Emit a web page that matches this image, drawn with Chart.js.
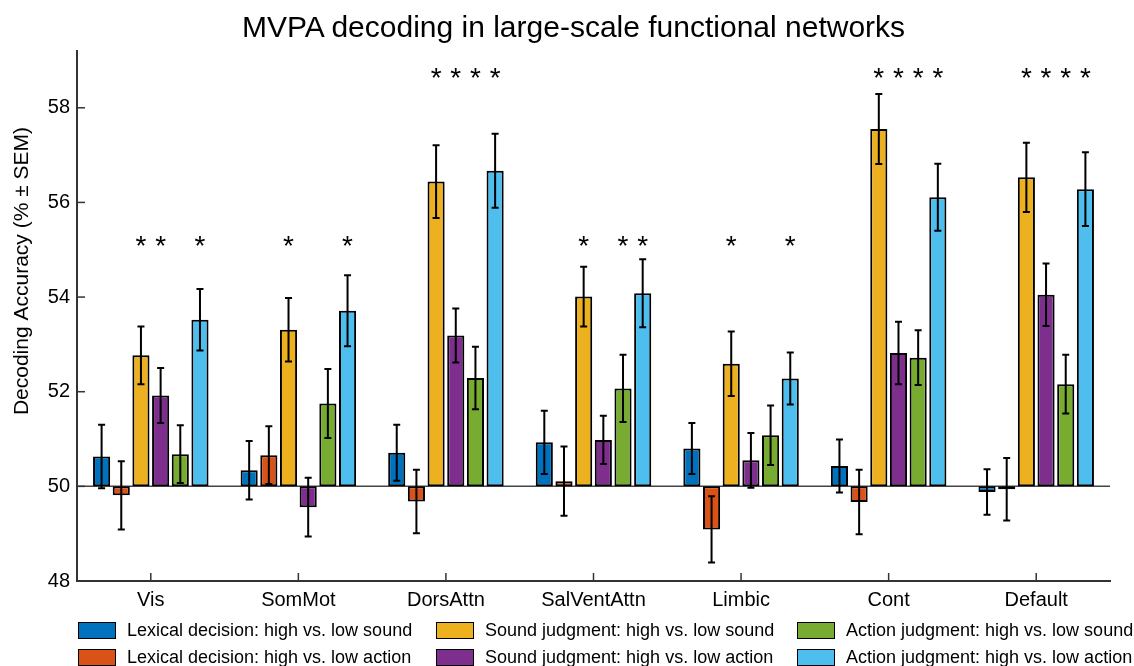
<!DOCTYPE html>
<html>
<head>
<meta charset="utf-8">
<script src="https://cdn.jsdelivr.net/npm/chart.js@4/dist/chart.umd.min.js"></script>
<style>
  html, body { margin: 0; padding: 0; background: #fff; }
  #wrap { position: relative; width: 1134px; height: 666px; overflow: hidden; }
  #title { position: absolute; left: 0; top: 9px; width: 1147px; text-align: center;
           font-family: 'Liberation Sans', Arial, sans-serif; font-size: 30px; line-height: 36px; color: #000; }
  #legend { position: absolute; left: 0; top: 0; width: 1134px; height: 666px; pointer-events: none;
            font-family: 'Liberation Sans', Arial, sans-serif; font-size: 18px; color: #000; }
  .item { position: absolute; white-space: nowrap; height: 18px; line-height: 18px; }
  .box { position: absolute; left: 0; top: 0; width: 36px; height: 15px; border: 1.5px solid #000; }
  .lbl { position: absolute; left: 49px; top: -1px; }
</style>
</head>
<body>
<div id="wrap">
  <canvas id="barChart" width="1134" height="666"></canvas>
  <div id="title">MVPA decoding in large-scale functional networks</div>
  <div id="legend"></div>
</div>
<script>
// networks on the x axis
var categories = ['Vis', 'SomMot', 'DorsAttn', 'SalVentAttn', 'Limbic', 'Cont', 'Default'];
var yTicks = [48, 50, 52, 54, 56, 58];
var yTitle = 'Decoding Accuracy (% ± SEM)';

// mean decoding accuracy (%) and SEM per network
var lexSound = [50.63, 50.34, 50.71, 50.93, 50.80, 50.43, 49.88];
var lexSoundSem = [0.67, 0.62, 0.59, 0.67, 0.54, 0.56, 0.48];
var lexAction = [49.81, 50.66, 49.68, 50.11, 49.09, 49.67, 49.94];
var lexActionSem = [0.72, 0.61, 0.67, 0.73, 0.70, 0.68, 0.66];
var soundSound = [52.77, 53.31, 56.44, 54.01, 52.59, 57.55, 56.53];
var soundSoundSem = [0.61, 0.67, 0.77, 0.63, 0.68, 0.74, 0.73];
var soundAction = [51.92, 49.56, 53.19, 50.98, 50.55, 52.82, 54.05];
var soundActionSem = [0.58, 0.62, 0.57, 0.51, 0.58, 0.66, 0.66];
var actionSound = [50.68, 51.75, 52.29, 52.07, 51.08, 52.72, 52.16];
var actionSoundSem = [0.61, 0.73, 0.66, 0.71, 0.63, 0.58, 0.62];
var actionAction = [53.52, 53.71, 56.67, 54.08, 52.28, 56.11, 56.28];
var actionActionSem = [0.65, 0.75, 0.78, 0.72, 0.55, 0.71, 0.78];

// significance marks (1 = asterisk) and the height they sit at per network
var lexSoundSig = [0, 0, 0, 0, 0, 0, 0];
var lexActionSig = [0, 0, 0, 0, 0, 0, 0];
var soundSoundSig = [1, 1, 1, 1, 1, 1, 1];
var soundActionSig = [1, 0, 1, 0, 0, 1, 1];
var actionSoundSig = [0, 0, 1, 1, 0, 1, 1];
var actionActionSig = [1, 1, 1, 1, 1, 1, 1];
var starLevel = [55.17, 55.17, 58.71, 55.17, 55.17, 58.71, 58.71];

var FONT = "'Liberation Sans', Arial, sans-serif";

var series = [
    { label: 'Lexical decision: high vs. low sound', data: lexSound, sem: lexSoundSem, sig: lexSoundSig, color: '#0072BD' },
    { label: 'Lexical decision: high vs. low action', data: lexAction, sem: lexActionSem, sig: lexActionSig, color: '#D95319' },
    { label: 'Sound judgment: high vs. low sound', data: soundSound, sem: soundSoundSem, sig: soundSoundSig, color: '#EDB120' },
    { label: 'Sound judgment: high vs. low action', data: soundAction, sem: soundActionSem, sig: soundActionSig, color: '#7E2F8E' },
    { label: 'Action judgment: high vs. low sound', data: actionSound, sem: actionSoundSem, sig: actionSoundSig, color: '#77AC30' },
    { label: 'Action judgment: high vs. low action', data: actionAction, sem: actionActionSem, sig: actionActionSig, color: '#4DBEEE' }
];

var datasets = series.map(function(s) {
    return {
        label: s.label,
        data: s.data,
        base: 50,
        backgroundColor: s.color,
        borderColor: '#000',
        borderWidth: 2,
        borderSkipped: false,
        categoryPercentage: 0.8,
        barPercentage: 0.87
    };
});

// baseline at 50, inward ticks, y title, error bars and asterisks
var extras = {
    id: 'extras',
    beforeDatasetsDraw: function(chart) {
        var ctx = chart.ctx, area = chart.chartArea;
        var x = chart.scales.x, y = chart.scales.y;
        ctx.save();
        ctx.strokeStyle = '#444';
        ctx.lineWidth = 1.5;
        var y50 = y.getPixelForValue(50);
        ctx.beginPath();
        ctx.moveTo(area.left, y50);
        ctx.lineTo(area.right, y50);
        ctx.stroke();
        ctx.strokeStyle = '#333';
        yTicks.forEach(function(v) {
            var py = y.getPixelForValue(v);
            ctx.beginPath();
            ctx.moveTo(area.left, py);
            ctx.lineTo(area.left + 8, py);
            ctx.stroke();
        });
        categories.forEach(function(c, i) {
            var px = x.getPixelForValue(i);
            ctx.beginPath();
            ctx.moveTo(px, area.bottom);
            ctx.lineTo(px, area.bottom - 8);
            ctx.stroke();
        });
        // y axis title, sits a little above the middle of the axis like the original
        ctx.translate(22, y.getPixelForValue(54.55));
        ctx.rotate(-Math.PI / 2);
        ctx.fillStyle = '#000';
        ctx.font = '21px ' + FONT;
        ctx.textAlign = 'center';
        ctx.textBaseline = 'middle';
        ctx.fillText(yTitle, 0, 0);
        ctx.restore();
    },
    afterDatasetsDraw: function(chart) {
        var ctx = chart.ctx;
        var y = chart.scales.y;
        ctx.save();
        ctx.strokeStyle = '#000';
        ctx.fillStyle = '#000';
        ctx.lineWidth = 2;
        series.forEach(function(s, d) {
            var meta = chart.getDatasetMeta(d);
            meta.data.forEach(function(bar, i) {
                var top = y.getPixelForValue(s.data[i] + s.sem[i]);
                var bot = y.getPixelForValue(s.data[i] - s.sem[i]);
                ctx.beginPath();
                ctx.moveTo(bar.x, top); ctx.lineTo(bar.x, bot);
                ctx.moveTo(bar.x - 3.5, top); ctx.lineTo(bar.x + 3.5, top);
                ctx.moveTo(bar.x - 3.5, bot); ctx.lineTo(bar.x + 3.5, bot);
                ctx.stroke();
                if (s.sig[i]) {
                    var size = 28;
                    ctx.font = size + 'px ' + FONT;
                    ctx.textAlign = 'center';
                    ctx.textBaseline = 'alphabetic';
                    ctx.fillText('*', bar.x, y.getPixelForValue(starLevel[i]) + size * 0.46);
                }
            });
        });
        ctx.restore();
    }
};

var chart = new Chart(document.getElementById('barChart').getContext('2d'), {
    type: 'bar',
    data: { labels: categories, datasets: datasets },
    plugins: [extras],
    options: {
        responsive: false,
        animation: false,
        layout: { padding: { left: 0, right: 24, top: 51, bottom: 47 } },
        plugins: {
            legend: { display: false },
            tooltip: { enabled: false },
            title: { display: false }
        },
        scales: {
            x: {
                grid: { display: false, drawTicks: false },
                border: { display: true, color: '#333', width: 2 },
                ticks: { color: '#000', font: { family: FONT, size: 20 }, padding: 7 }
            },
            y: {
                min: 48,
                max: 59.2,
                afterBuildTicks: function(scale) {
                    scale.ticks = yTicks.map(function(v) { return { value: v }; });
                },
                afterFit: function(scale) { scale.width = 77; },
                grid: { display: false, drawTicks: false },
                border: { display: true, color: '#333', width: 2 },
                ticks: { color: '#000', font: { family: FONT, size: 20 }, padding: 7 }
            }
        }
    }
});

// legend: three columns, two rows, filled column by column
var legendCols = [78, 436, 797];
var legendRows = [622, 649];
var legend = document.getElementById('legend');
series.forEach(function(s, i) {
    var col = Math.floor(i / 2), row = i % 2;
    var item = document.createElement('div');
    item.className = 'item';
    item.style.left = legendCols[col] + 'px';
    item.style.top = legendRows[row] + 'px';
    item.innerHTML = '<div class="box" style="background:' + s.color + '"></div><span class="lbl"></span>';
    item.querySelector('.lbl').textContent = s.label;
    legend.appendChild(item);
});
</script>
</body>
</html>
